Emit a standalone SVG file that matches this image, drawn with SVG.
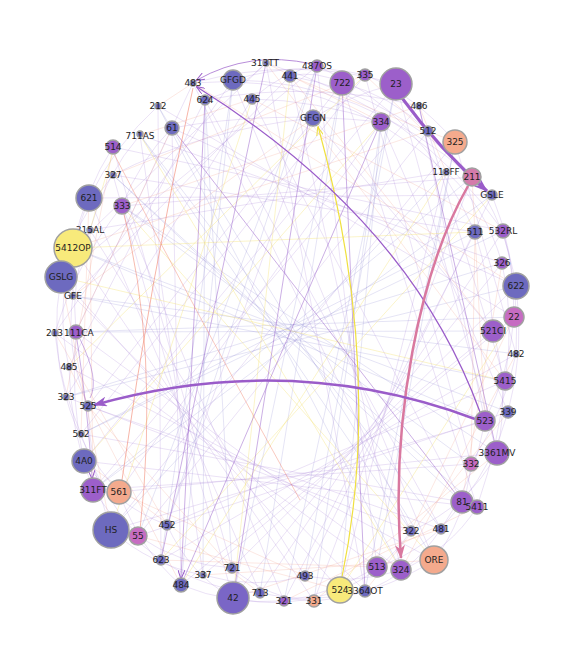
<svg xmlns="http://www.w3.org/2000/svg" width="572" height="666" viewBox="0 0 572 666">
<style>
.b{fill:#6d6abf}.p{fill:#9c5fca}.k{fill:#c66cc2}.s{fill:#f4aa8d}.y{fill:#f8ea7b}.m{fill:#d47bab}.v{fill:#7a66c6}
circle{stroke:#a0a0a0;stroke-width:1.5}
text{font-family:"DejaVu Sans",Verdana,sans-serif;font-size:9px;fill:#1e1e1e;text-anchor:middle}
.e1{stroke:#a57bd8;stroke-opacity:.28;stroke-width:.8;fill:none}
.e2{stroke:#f2947f;stroke-opacity:.28;stroke-width:.8;fill:none}
.e3{stroke:#8985d2;stroke-opacity:.28;stroke-width:.8;fill:none}
.e4{stroke:#f5e06a;stroke-opacity:.45;stroke-width:.8;fill:none}
.med{stroke:#9a62cc;stroke-opacity:.5;stroke-width:1;fill:none}
</style>
<defs>
<marker id="ap" markerUnits="userSpaceOnUse" markerWidth="14" markerHeight="10" refX="13" refY="5" orient="auto"><path d="M0,0 L14,5 L0,10 L4,5 z" fill="#9a5cc9"/></marker>
<marker id="ak" markerUnits="userSpaceOnUse" markerWidth="14" markerHeight="10" refX="13" refY="5" orient="auto"><path d="M0,0 L14,5 L0,10 L4,5 z" fill="#d9789f"/></marker>
<marker id="as" markerUnits="userSpaceOnUse" markerWidth="9" markerHeight="7" refX="8" refY="3.5" orient="auto"><path d="M0,0 L9,3.5 L0,7" fill="none" stroke="#9a5cc9" stroke-width="1"/></marker>
<marker id="ay" markerUnits="userSpaceOnUse" markerWidth="9" markerHeight="7" refX="8" refY="3.5" orient="auto"><path d="M0,0 L9,3.5 L0,7" fill="none" stroke="#eee040" stroke-width="1"/></marker>
</defs>
<rect width="572" height="666" fill="#ffffff"/>
<g id="connectors">
<g class="e1">
<line x1="266" y1="63" x2="73" y2="248"/><line x1="317" y1="66" x2="61" y2="277"/><line x1="290" y1="76" x2="73" y2="296"/><line x1="233" y1="80" x2="55" y2="333"/><line x1="193" y1="83" x2="76" y2="332"/><line x1="205" y1="100" x2="69" y2="367"/><line x1="252" y1="99" x2="66" y2="397"/><line x1="342" y1="83" x2="88" y2="406"/><line x1="365" y1="75" x2="81" y2="434"/><line x1="396" y1="84" x2="84" y2="461"/><line x1="419" y1="106" x2="93" y2="490"/><line x1="381" y1="122" x2="119" y2="492"/><line x1="428" y1="131" x2="111" y2="530"/><line x1="455" y1="142" x2="138" y2="536"/><line x1="313" y1="118" x2="167" y2="525"/><line x1="158" y1="106" x2="161" y2="560"/><line x1="172" y1="128" x2="181" y2="585"/><line x1="140" y1="135" x2="203" y2="575"/><line x1="113" y1="147" x2="232" y2="568"/><line x1="113" y1="175" x2="233" y2="598"/><line x1="89" y1="198" x2="260" y2="593"/><line x1="122" y1="206" x2="284" y2="601"/><line x1="90" y1="230" x2="305" y2="576"/><line x1="73" y1="248" x2="314" y2="601"/><line x1="61" y1="277" x2="340" y2="590"/><line x1="73" y1="296" x2="365" y2="591"/><line x1="55" y1="333" x2="377" y2="567"/><line x1="76" y1="332" x2="401" y2="570"/><line x1="69" y1="367" x2="434" y2="560"/><line x1="66" y1="397" x2="411" y2="531"/><line x1="88" y1="406" x2="441" y2="529"/><line x1="81" y1="434" x2="462" y2="502"/><line x1="84" y1="461" x2="477" y2="507"/><line x1="93" y1="490" x2="471" y2="464"/><line x1="119" y1="492" x2="497" y2="453"/><line x1="111" y1="530" x2="485" y2="421"/><line x1="138" y1="536" x2="508" y2="412"/><line x1="167" y1="525" x2="505" y2="381"/><line x1="161" y1="560" x2="516" y2="354"/><line x1="181" y1="585" x2="493" y2="331"/><line x1="203" y1="575" x2="514" y2="317"/><line x1="232" y1="568" x2="516" y2="286"/><line x1="233" y1="598" x2="502" y2="263"/><line x1="260" y1="593" x2="503" y2="231"/><line x1="284" y1="601" x2="475" y2="232"/><line x1="305" y1="576" x2="492" y2="195"/><line x1="314" y1="601" x2="472" y2="177"/><line x1="340" y1="590" x2="446" y2="172"/><line x1="365" y1="591" x2="266" y2="63"/><line x1="377" y1="567" x2="317" y2="66"/><line x1="401" y1="570" x2="290" y2="76"/><line x1="434" y1="560" x2="233" y2="80"/><line x1="411" y1="531" x2="193" y2="83"/><line x1="441" y1="529" x2="205" y2="100"/><line x1="462" y1="502" x2="252" y2="99"/><line x1="477" y1="507" x2="342" y2="83"/><line x1="471" y1="464" x2="365" y2="75"/><line x1="497" y1="453" x2="396" y2="84"/><line x1="485" y1="421" x2="419" y2="106"/><line x1="508" y1="412" x2="381" y2="122"/><line x1="505" y1="381" x2="428" y2="131"/><line x1="516" y1="354" x2="455" y2="142"/><line x1="493" y1="331" x2="313" y2="118"/><line x1="514" y1="317" x2="158" y2="106"/><line x1="516" y1="286" x2="172" y2="128"/><line x1="502" y1="263" x2="140" y2="135"/><line x1="503" y1="231" x2="113" y2="147"/><line x1="475" y1="232" x2="113" y2="175"/><line x1="492" y1="195" x2="89" y2="198"/><line x1="472" y1="177" x2="122" y2="206"/><line x1="446" y1="172" x2="90" y2="230"/>
</g>
<g class="e2">
<line x1="266" y1="63" x2="381" y2="122"/><line x1="290" y1="76" x2="455" y2="142"/><line x1="193" y1="83" x2="158" y2="106"/><line x1="252" y1="99" x2="140" y2="135"/><line x1="365" y1="75" x2="113" y2="175"/><line x1="419" y1="106" x2="122" y2="206"/><line x1="428" y1="131" x2="73" y2="248"/><line x1="313" y1="118" x2="73" y2="296"/><line x1="172" y1="128" x2="76" y2="332"/><line x1="113" y1="147" x2="66" y2="397"/><line x1="89" y1="198" x2="81" y2="434"/><line x1="90" y1="230" x2="93" y2="490"/><line x1="61" y1="277" x2="111" y2="530"/><line x1="55" y1="333" x2="167" y2="525"/><line x1="69" y1="367" x2="181" y2="585"/><line x1="88" y1="406" x2="232" y2="568"/><line x1="84" y1="461" x2="260" y2="593"/><line x1="119" y1="492" x2="305" y2="576"/><line x1="138" y1="536" x2="340" y2="590"/><line x1="161" y1="560" x2="377" y2="567"/><line x1="203" y1="575" x2="434" y2="560"/><line x1="233" y1="598" x2="441" y2="529"/><line x1="284" y1="601" x2="477" y2="507"/><line x1="314" y1="601" x2="497" y2="453"/><line x1="365" y1="591" x2="508" y2="412"/><line x1="401" y1="570" x2="516" y2="354"/><line x1="411" y1="531" x2="514" y2="317"/><line x1="462" y1="502" x2="502" y2="263"/><line x1="471" y1="464" x2="475" y2="232"/><line x1="485" y1="421" x2="472" y2="177"/><line x1="505" y1="381" x2="266" y2="63"/><line x1="493" y1="331" x2="290" y2="76"/><line x1="516" y1="286" x2="193" y2="83"/><line x1="503" y1="231" x2="252" y2="99"/><line x1="492" y1="195" x2="365" y2="75"/><line x1="446" y1="172" x2="419" y2="106"/>
</g>
<g class="e3">
<line x1="317" y1="66" x2="138" y2="536"/><line x1="233" y1="80" x2="161" y2="560"/><line x1="205" y1="100" x2="203" y2="575"/><line x1="342" y1="83" x2="233" y2="598"/><line x1="396" y1="84" x2="284" y2="601"/><line x1="381" y1="122" x2="314" y2="601"/><line x1="455" y1="142" x2="365" y2="591"/><line x1="158" y1="106" x2="401" y2="570"/><line x1="140" y1="135" x2="411" y2="531"/><line x1="113" y1="175" x2="462" y2="502"/><line x1="122" y1="206" x2="471" y2="464"/><line x1="73" y1="248" x2="485" y2="421"/><line x1="73" y1="296" x2="505" y2="381"/><line x1="76" y1="332" x2="493" y2="331"/><line x1="66" y1="397" x2="516" y2="286"/><line x1="81" y1="434" x2="503" y2="231"/><line x1="93" y1="490" x2="492" y2="195"/><line x1="111" y1="530" x2="446" y2="172"/><line x1="167" y1="525" x2="317" y2="66"/><line x1="181" y1="585" x2="233" y2="80"/><line x1="232" y1="568" x2="205" y2="100"/><line x1="260" y1="593" x2="342" y2="83"/><line x1="305" y1="576" x2="396" y2="84"/><line x1="340" y1="590" x2="381" y2="122"/><line x1="377" y1="567" x2="455" y2="142"/><line x1="434" y1="560" x2="158" y2="106"/><line x1="441" y1="529" x2="140" y2="135"/><line x1="477" y1="507" x2="113" y2="175"/><line x1="497" y1="453" x2="122" y2="206"/><line x1="508" y1="412" x2="73" y2="248"/><line x1="516" y1="354" x2="73" y2="296"/><line x1="514" y1="317" x2="76" y2="332"/><line x1="502" y1="263" x2="66" y2="397"/><line x1="475" y1="232" x2="81" y2="434"/><line x1="472" y1="177" x2="93" y2="490"/>
</g>
<g class="e1">
<path d="M266,63 Q240,90 205,100"/><path d="M317,66 Q285,70 252,99"/><path d="M290,76 Q316,70 342,83"/><path d="M233,80 Q300,60 365,75"/><path d="M193,83 Q295,55 396,84"/><path d="M205,100 Q312,80 419,106"/><path d="M252,99 Q316,100 381,122"/><path d="M342,83 Q390,95 428,131"/><path d="M365,75 Q415,95 455,142"/><path d="M396,84 Q350,95 313,118"/><path d="M381,122 Q270,110 172,128"/><path d="M313,118 Q200,130 113,175"/><path d="M158,106 Q115,145 89,198"/><path d="M172,128 Q140,160 122,206"/><path d="M140,135 Q105,175 90,230"/><path d="M113,147 Q85,190 73,248"/><path d="M113,175 Q75,220 61,277"/><path d="M89,198 Q70,245 73,296"/><path d="M122,206 Q75,265 55,333"/><path d="M90,230 Q70,280 76,332"/><path d="M73,248 Q55,310 69,367"/><path d="M61,277 Q50,340 66,397"/><path d="M73,296 Q65,350 88,406"/><path d="M55,333 Q60,385 81,434"/><path d="M76,332 Q70,400 84,461"/><path d="M69,367 Q70,430 93,490"/><path d="M66,397 Q80,450 119,492"/><path d="M88,406 Q90,470 111,530"/><path d="M81,434 Q100,495 138,536"/><path d="M84,461 Q115,505 167,525"/><path d="M93,490 Q120,530 161,560"/><path d="M119,492 Q140,550 181,585"/><path d="M111,530 Q150,565 203,575"/><path d="M138,536 Q180,565 232,568"/><path d="M167,525 Q190,575 233,598"/><path d="M161,560 Q205,590 260,593"/><path d="M181,585 Q230,605 284,601"/><path d="M203,575 Q255,590 305,576"/><path d="M232,568 Q270,600 314,601"/><path d="M233,598 Q285,610 340,590"/><path d="M260,593 Q310,605 365,591"/><path d="M284,601 Q330,595 377,567"/><path d="M305,576 Q355,585 401,570"/><path d="M314,601 Q380,595 434,560"/><path d="M340,590 Q380,575 411,531"/><path d="M365,591 Q410,575 441,529"/><path d="M377,567 Q430,550 462,502"/><path d="M401,570 Q450,550 477,507"/><path d="M434,560 Q465,520 471,464"/><path d="M411,531 Q470,505 497,453"/><path d="M441,529 Q475,480 485,421"/><path d="M462,502 Q495,460 508,412"/><path d="M477,507 Q500,440 505,381"/><path d="M471,464 Q505,410 516,354"/><path d="M497,453 Q510,390 493,331"/><path d="M485,421 Q510,370 514,317"/><path d="M508,412 Q525,350 516,286"/><path d="M505,381 Q515,320 502,263"/><path d="M516,354 Q520,290 503,231"/><path d="M493,331 Q490,280 475,232"/><path d="M514,317 Q515,250 492,195"/><path d="M516,286 Q505,220 472,177"/><path d="M502,263 Q485,205 446,172"/><path d="M503,231 Q420,110 266,63"/><path d="M475,232 Q420,110 317,66"/><path d="M492,195 Q400,95 290,76"/><path d="M472,177 Q360,80 233,80"/><path d="M446,172 Q330,70 193,83"/>
</g>
<g class="e4">
<line x1="90" y1="230" x2="113" y2="152"/><line x1="61" y1="277" x2="505" y2="381"/><line x1="73" y1="248" x2="475" y2="232"/><line x1="111" y1="530" x2="252" y2="99"/><line x1="181" y1="585" x2="446" y2="172"/><line x1="290" y1="76" x2="233" y2="598"/><line x1="122" y1="206" x2="434" y2="560"/><line x1="340" y1="590" x2="514" y2="317"/><line x1="84" y1="461" x2="381" y2="122"/><line x1="161" y1="560" x2="492" y2="195"/><line x1="69" y1="367" x2="365" y2="75"/><line x1="401" y1="570" x2="140" y2="135"/>
</g>
<g class="med">
<line x1="266" y1="63" x2="161" y2="560"/><line x1="317" y1="66" x2="233" y2="598"/><line x1="342" y1="83" x2="365" y2="591"/><line x1="381" y1="122" x2="181" y2="585"/><line x1="205" y1="100" x2="181" y2="578" marker-end="url(#as)"/><line x1="172" y1="128" x2="462" y2="502"/><line x1="419" y1="106" x2="497" y2="453"/>
<path d="M77,340 Q88,410 92,478" marker-end="url(#as)"/><path d="M80,339 Q100,380 90,398"/>
</g>
<path d="M122,206 Q160,350 140,530" fill="none" stroke="#f07860" stroke-opacity=".5" stroke-width="1"/>
<path d="M113,152 Q200,320 300,500" fill="none" stroke="#f07860" stroke-opacity=".4" stroke-width="1"/>
<path d="M193,88 Q150,280 122,480" fill="none" stroke="#f07860" stroke-opacity=".55" stroke-width="1"/>
<path d="M318,126 Q385,370 342,577" fill="none" stroke="#f0e040" stroke-width="1.2"/>
<path d="M342,577 Q385,370 318,128" fill="none" stroke="none" marker-end="url(#ay)"/>
<path d="M312,64 Q250,50 197,80" fill="none" stroke="#9a5cc9" stroke-opacity=".7" stroke-width="1" marker-end="url(#as)"/>
<path d="M480,412 Q410,220 197,87" fill="none" stroke="#9a5cc9" stroke-width="1.3" marker-end="url(#as)"/>
<path d="M402,98 Q440,150 487,191" fill="none" stroke="#9a5cc9" stroke-width="3" marker-end="url(#ap)"/>
<path d="M468,186 C420,270 390,420 401,558" fill="none" stroke="#d9789f" stroke-width="2.5" marker-end="url(#ak)"/>
<path d="M475,419 Q290,350 94,405" fill="none" stroke="#9a5cc9" stroke-width="2.5" marker-end="url(#ap)"/>
</g>
<g id="n313TT"><circle class="b" cx="266" cy="63" r="3"/><text x="265" y="66">313TT</text></g>
<g id="n487OS"><circle class="p" cx="317" cy="66" r="6"/><text x="317" y="69">487OS</text></g>
<g id="n441"><circle class="b" cx="290" cy="76" r="6"/><text x="290" y="79">441</text></g>
<g id="nGFGD"><circle class="b" cx="233" cy="80" r="10"/><text x="233" y="83">GFGD</text></g>
<g id="n483"><circle class="b" cx="193" cy="83" r="3"/><text x="193" y="86">483</text></g>
<g id="n624"><circle class="b" cx="205" cy="100" r="5"/><text x="205" y="103">624</text></g>
<g id="n445"><circle class="b" cx="252" cy="99" r="5"/><text x="252" y="102">445</text></g>
<g id="n722"><circle class="p" cx="342" cy="83" r="12"/><text x="342" y="86">722</text></g>
<g id="n335"><circle class="p" cx="365" cy="75" r="6"/><text x="365" y="78">335</text></g>
<g id="n23"><circle class="p" cx="396" cy="84" r="16"/><text x="396" y="87">23</text></g>
<g id="n486"><circle class="b" cx="419" cy="106" r="3"/><text x="419" y="109">486</text></g>
<g id="n334"><circle class="p" cx="381" cy="122" r="9"/><text x="381" y="125">334</text></g>
<g id="n512"><circle class="b" cx="428" cy="131" r="5"/><text x="428" y="134">512</text></g>
<g id="n325"><circle class="s" cx="455" cy="142" r="12"/><text x="455" y="145">325</text></g>
<g id="nGFGN"><circle class="b" cx="313" cy="118" r="8"/><text x="313" y="121">GFGN</text></g>
<g id="n212"><circle class="b" cx="158" cy="106" r="3"/><text x="158" y="109">212</text></g>
<g id="n61"><circle class="b" cx="172" cy="128" r="7"/><text x="172" y="131">61</text></g>
<g id="n711AS"><circle class="b" cx="140" cy="134" r="3"/><text x="140" y="139">711AS</text></g>
<g id="n514"><circle class="p" cx="113" cy="147" r="7"/><text x="113" y="150">514</text></g>
<g id="n327"><circle class="b" cx="113" cy="175" r="3"/><text x="113" y="178">327</text></g>
<g id="n621"><circle class="b" cx="89" cy="198" r="13"/><text x="89" y="201">621</text></g>
<g id="n333"><circle class="p" cx="122" cy="206" r="8"/><text x="122" y="209">333</text></g>
<g id="n315AL"><circle class="b" cx="90" cy="230" r="3"/><text x="90" y="233">315AL</text></g>
<g id="n5412OP"><circle class="y" cx="73" cy="248" r="19"/><text x="73" y="251">5412OP</text></g>
<g id="nGSLG"><circle class="b" cx="61" cy="277" r="16"/><text x="61" y="280">GSLG</text></g>
<g id="nGFE"><circle class="b" cx="73" cy="296" r="3"/><text x="73" y="299">GFE</text></g>
<g id="n213"><circle class="b" cx="55" cy="333" r="3"/><text x="54.5" y="336">213</text></g>
<g id="n111CA"><circle class="p" cx="76" cy="332" r="7"/><text x="64" y="336" style="text-anchor:start">111CA</text></g>
<g id="n485"><circle class="b" cx="69" cy="367" r="3"/><text x="69" y="370">485</text></g>
<g id="n323"><circle class="b" cx="66" cy="397" r="3"/><text x="66" y="400">323</text></g>
<g id="n525"><circle class="b" cx="88" cy="406" r="5"/><text x="88" y="409">525</text></g>
<g id="n562"><circle class="b" cx="81" cy="434" r="3"/><text x="81" y="437">562</text></g>
<g id="n4A0"><circle class="b" cx="84" cy="461" r="12"/><text x="84" y="464">4A0</text></g>
<g id="n311FT"><circle class="p" cx="93" cy="490" r="12"/><text x="93" y="493">311FT</text></g>
<g id="n561"><circle class="s" cx="119" cy="492" r="12"/><text x="119" y="495">561</text></g>
<g id="nHS"><circle class="b" cx="111" cy="530" r="18"/><text x="111" y="533">HS</text></g>
<g id="n55"><circle class="k" cx="138" cy="536" r="9"/><text x="138" y="539">55</text></g>
<g id="n452"><circle class="b" cx="167" cy="525" r="5"/><text x="167" y="528">452</text></g>
<g id="n623"><circle class="b" cx="161" cy="560" r="5"/><text x="161" y="563">623</text></g>
<g id="n484"><circle class="b" cx="181" cy="585" r="7"/><text x="181" y="588">484</text></g>
<g id="n337"><circle class="b" cx="203" cy="575" r="3"/><text x="203" y="578">337</text></g>
<g id="n721"><circle class="b" cx="232" cy="568" r="5"/><text x="232" y="571">721</text></g>
<g id="n42"><circle class="v" cx="233" cy="598" r="16"/><text x="233" y="601">42</text></g>
<g id="n713"><circle class="b" cx="260" cy="593" r="5"/><text x="260" y="596">713</text></g>
<g id="n321"><circle class="p" cx="284" cy="601" r="5"/><text x="284" y="604">321</text></g>
<g id="n493"><circle class="b" cx="305" cy="576" r="5"/><text x="305" y="579">493</text></g>
<g id="n331"><circle class="s" cx="314" cy="601" r="6"/><text x="314" y="604">331</text></g>
<g id="n524"><circle class="y" cx="340" cy="590" r="13"/><text x="340" y="593">524</text></g>
<g id="n3364OT"><circle class="b" cx="365" cy="591" r="6"/><text x="365" y="594">3364OT</text></g>
<g id="n513"><circle class="p" cx="377" cy="567" r="10"/><text x="377" y="570">513</text></g>
<g id="n324"><circle class="p" cx="401" cy="570" r="10"/><text x="401" y="573">324</text></g>
<g id="nORE"><circle class="s" cx="434" cy="560" r="14"/><text x="434" y="563">ORE</text></g>
<g id="n322"><circle class="b" cx="411" cy="531" r="5"/><text x="411" y="534">322</text></g>
<g id="n481"><circle class="b" cx="441" cy="529" r="5"/><text x="441" y="532">481</text></g>
<g id="n81"><circle class="p" cx="462" cy="502" r="11"/><text x="462" y="505">81</text></g>
<g id="n5411"><circle class="p" cx="477" cy="507" r="7"/><text x="477" y="510">5411</text></g>
<g id="n332"><circle class="k" cx="471" cy="464" r="7"/><text x="471" y="467">332</text></g>
<g id="n3361MV"><circle class="p" cx="497" cy="453" r="12"/><text x="497" y="456">3361MV</text></g>
<g id="n523"><circle class="p" cx="485" cy="421" r="10"/><text x="485" y="424">523</text></g>
<g id="n339"><circle class="b" cx="508" cy="412" r="6"/><text x="508" y="415">339</text></g>
<g id="n5415"><circle class="p" cx="505" cy="381" r="9"/><text x="505" y="384">5415</text></g>
<g id="n482"><circle class="b" cx="516" cy="354" r="3"/><text x="516" y="357">482</text></g>
<g id="n521CI"><circle class="p" cx="493" cy="331" r="11"/><text x="493" y="334">521CI</text></g>
<g id="n22"><circle class="k" cx="514" cy="317" r="10"/><text x="514" y="320">22</text></g>
<g id="n622"><circle class="b" cx="516" cy="286" r="13"/><text x="516" y="289">622</text></g>
<g id="n326"><circle class="p" cx="502" cy="263" r="6"/><text x="502" y="266">326</text></g>
<g id="n532RL"><circle class="p" cx="503" cy="231" r="7"/><text x="503" y="234">532RL</text></g>
<g id="n511"><circle class="b" cx="475" cy="232" r="7"/><text x="475" y="235">511</text></g>
<g id="nGSLE"><circle class="b" cx="492" cy="195" r="5"/><text x="492" y="198">GSLE</text></g>
<g id="n211"><circle class="m" cx="472" cy="177" r="9"/><text x="472" y="180">211</text></g>
<g id="n118FF"><circle class="b" cx="446" cy="172" r="3"/><text x="446" y="175">118FF</text></g>
</svg>
